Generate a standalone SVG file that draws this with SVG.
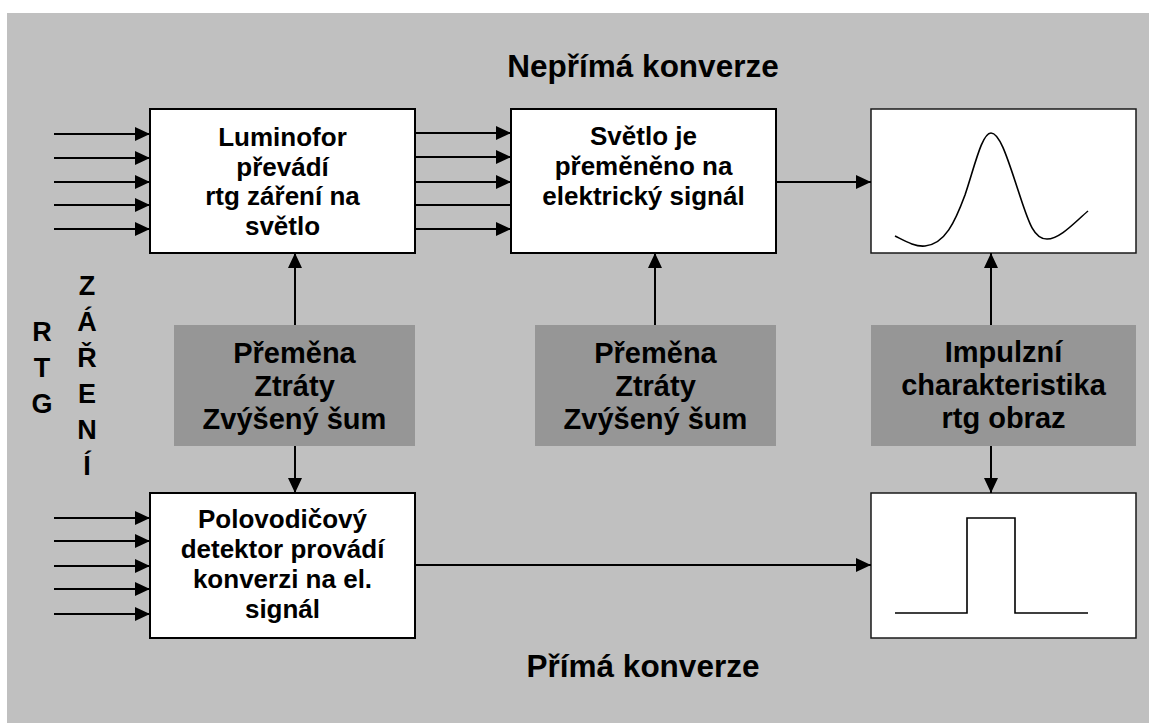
<svg xmlns="http://www.w3.org/2000/svg" width="1149" height="725" viewBox="0 0 1149 725">
<style>
.bg{fill:#c0c0c0}
.box{fill:#ffffff;stroke:#000;stroke-width:2}
.gbox{fill:#ffffff;stroke:#1a1a1a;stroke-width:1.5}
.gray{fill:#969696}
.t{font-family:"Liberation Sans",Arial,sans-serif;font-weight:bold;fill:#000;text-anchor:middle}
.tw{font-size:26px}
.tg{font-size:29px}
.th{font-size:31.5px}
.tl{font-size:27px}
.c{stroke:#000;stroke-width:2;fill:none}
.curve{stroke:#000;stroke-width:1.6;fill:none}
</style>
<defs>
<marker id="ah" markerUnits="userSpaceOnUse" markerWidth="15" markerHeight="14" refX="15" refY="7" orient="auto">
<path d="M0,0 L15,7 L0,14 z" fill="#000"/>
</marker>
</defs>
<rect class="bg" x="7" y="13" width="1142" height="710"/>

<text class="t th" x="643" y="77">Nepřímá konverze</text>
<text class="t th" x="643" y="677">Přímá konverze</text>

<g id="rtg">
<text class="t tl" x="42" y="341">R</text>
<text class="t tl" x="42" y="377">T</text>
<text class="t tl" x="42" y="413">G</text>
</g>
<g id="zareni">
<text class="t tl" x="87" y="295">Z</text>
<text class="t tl" x="87" y="331">Á</text>
<text class="t tl" x="87" y="367">Ř</text>
<text class="t tl" x="87" y="403">E</text>
<text class="t tl" x="87" y="439">N</text>
<text class="t tl" x="87" y="475">Í</text>
</g>

<g id="luminofor">
<rect class="box" x="150" y="109" width="265" height="144"/>
<text class="t tw" x="282.5" y="146">Luminofor</text>
<text class="t tw" x="282.5" y="175.7">převádí</text>
<text class="t tw" x="282.5" y="205.4">rtg záření na</text>
<text class="t tw" x="282.5" y="235">světlo</text>
</g>

<g id="svetlo">
<rect class="box" x="511" y="109" width="265" height="144"/>
<text class="t tw" x="643.5" y="145">Světlo je</text>
<text class="t tw" x="643.5" y="175">přeměněno na</text>
<text class="t tw" x="643.5" y="205">elektrický signál</text>
</g>

<g id="graf-neprima">
<rect class="gbox" x="871" y="109" width="265" height="144"/>
<path class="curve" d="M895,236 C905,241 915,247 925,246 C945,244 955,222 965,195 C975,165 982,133 991,133 C1000,133 1008,160 1018,190 C1028,220 1033,239 1047,239 C1060,239 1075,222 1088,211"/>
</g>

<g id="sum1">
<rect class="gray" x="174" y="325" width="241" height="121"/>
<text class="t tg" x="294.5" y="363">Přeměna</text>
<text class="t tg" x="294.5" y="396">Ztráty</text>
<text class="t tg" x="294.5" y="429">Zvýšený šum</text>
</g>

<g id="sum2">
<rect class="gray" x="535" y="325" width="241" height="121"/>
<text class="t tg" x="655.5" y="363">Přeměna</text>
<text class="t tg" x="655.5" y="396">Ztráty</text>
<text class="t tg" x="655.5" y="429">Zvýšený šum</text>
</g>

<g id="impulzni">
<rect class="gray" x="871" y="325" width="265" height="121"/>
<text class="t tg" x="1003.5" y="362">Impulzní</text>
<text class="t tg" x="1003.5" y="395">charakteristika</text>
<text class="t tg" x="1003.5" y="428">rtg obraz</text>
</g>

<g id="polovodic">
<rect class="box" x="150" y="493" width="265" height="145"/>
<text class="t tw" x="282.5" y="528">Polovodičový</text>
<text class="t tw" x="282.5" y="558">detektor provádí</text>
<text class="t tw" x="282.5" y="588">konverzi na el.</text>
<text class="t tw" x="282.5" y="618">signál</text>
</g>

<g id="graf-prima">
<rect class="gbox" x="871" y="493" width="265" height="145"/>
<path class="curve" d="M895,613 L967,613 L967,518 L1015,518 L1015,613 L1088,613"/>
</g>

<g id="connectors">
<line class="c" x1="54" y1="134" x2="150" y2="134" marker-end="url(#ah)"/>
<line class="c" x1="54" y1="158" x2="150" y2="158" marker-end="url(#ah)"/>
<line class="c" x1="54" y1="182" x2="150" y2="182" marker-end="url(#ah)"/>
<line class="c" x1="54" y1="205" x2="150" y2="205" marker-end="url(#ah)"/>
<line class="c" x1="54" y1="229" x2="150" y2="229" marker-end="url(#ah)"/>

<line class="c" x1="415" y1="133" x2="511" y2="133" marker-end="url(#ah)"/>
<line class="c" x1="415" y1="157" x2="511" y2="157" marker-end="url(#ah)"/>
<line class="c" x1="415" y1="182" x2="511" y2="182" marker-end="url(#ah)"/>
<line class="c" x1="415" y1="205" x2="511" y2="205"/>
<line class="c" x1="415" y1="229" x2="511" y2="229" marker-end="url(#ah)"/>

<line class="c" x1="776" y1="182" x2="871" y2="182" marker-end="url(#ah)"/>

<line class="c" x1="295" y1="325" x2="295" y2="253" marker-end="url(#ah)"/>
<line class="c" x1="295" y1="446" x2="295" y2="493" marker-end="url(#ah)"/>
<line class="c" x1="655" y1="325" x2="655" y2="253" marker-end="url(#ah)"/>
<line class="c" x1="991" y1="325" x2="991" y2="253" marker-end="url(#ah)"/>
<line class="c" x1="991" y1="446" x2="991" y2="493" marker-end="url(#ah)"/>

<line class="c" x1="54" y1="518" x2="150" y2="518" marker-end="url(#ah)"/>
<line class="c" x1="54" y1="541" x2="150" y2="541" marker-end="url(#ah)"/>
<line class="c" x1="54" y1="566" x2="150" y2="566" marker-end="url(#ah)"/>
<line class="c" x1="54" y1="589" x2="150" y2="589" marker-end="url(#ah)"/>
<line class="c" x1="54" y1="614" x2="150" y2="614" marker-end="url(#ah)"/>

<line class="c" x1="415" y1="565" x2="871" y2="565" marker-end="url(#ah)"/>
</g>
</svg>
